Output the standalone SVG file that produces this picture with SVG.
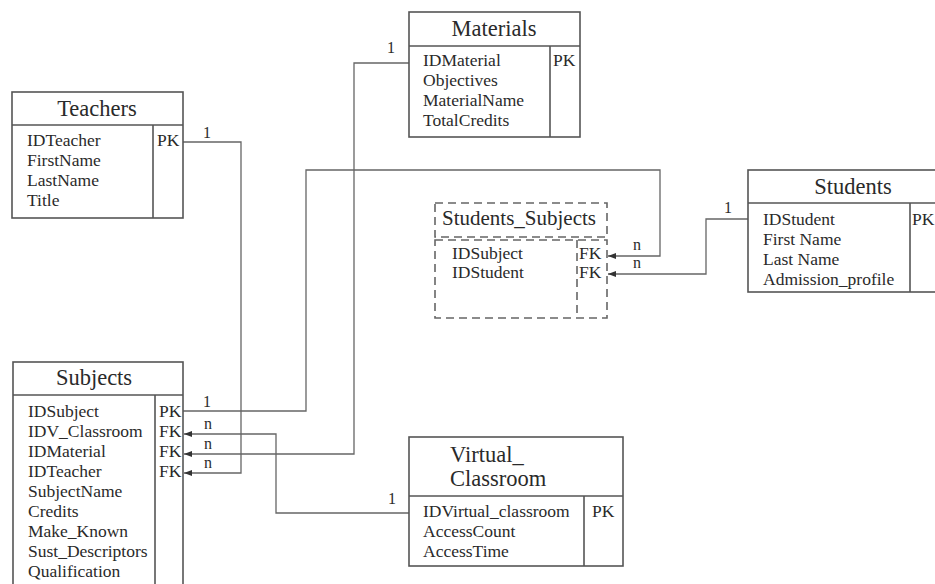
<svg xmlns="http://www.w3.org/2000/svg" width="935" height="584" viewBox="0 0 935 584" font-family="'Liberation Serif', 'DejaVu Serif', serif">
<defs>
<marker id="arr" viewBox="0 0 8 6" refX="8" refY="3" markerWidth="8" markerHeight="6" markerUnits="userSpaceOnUse" orient="auto">
<path d="M0,0 L8,3 L0,6 Z" fill="#333"/>
</marker>
<style>
.box{fill:#fff;stroke:#555;stroke-width:1.6}
.ln{fill:none;stroke:#555;stroke-width:1.6}
.dash{fill:none;stroke:#666;stroke-width:1.6;stroke-dasharray:8 5}
.conn{fill:none;stroke:#666;stroke-width:1.3}
text{fill:#2a2a2a}
.t{font-size:22.5px}
.r{font-size:17.5px}
.lbl{font-size:16px}
</style>
</defs>
<rect width="935" height="584" fill="#fff"/>

<g id="connectors">
<path class="conn" d="M183,142 H241 V473 H184" marker-end="url(#arr)"/>
<path class="conn" d="M409,63 H354 V454 H184" marker-end="url(#arr)"/>
<path class="conn" d="M183,411 H306 V170 H660 V256 H608" marker-end="url(#arr)"/>
<path class="conn" d="M748,219 H706 V274 H608" marker-end="url(#arr)"/>
<path class="conn" d="M409,513 H276 V434 H184" marker-end="url(#arr)"/>
<text class="lbl" x="203" y="138">1</text>
<text class="lbl" x="387" y="53">1</text>
<text class="lbl" x="203" y="407">1</text>
<text class="lbl" x="633" y="250">n</text>
<text class="lbl" x="724" y="213">1</text>
<text class="lbl" x="633" y="268">n</text>
<text class="lbl" x="388" y="504">1</text>
<text class="lbl" x="204" y="429">n</text>
<text class="lbl" x="204" y="449">n</text>
<text class="lbl" x="204" y="468">n</text>
</g>

<g id="teachers">
<rect class="box" x="12" y="92" width="171" height="126"/>
<line class="ln" x1="12" y1="125" x2="183" y2="125"/>
<line class="ln" x1="153" y1="125" x2="153" y2="218"/>
<text class="t" x="97" y="116" text-anchor="middle">Teachers</text>
<text class="r" x="27" y="146">IDTeacher</text>
<text class="r" x="27" y="166">FirstName</text>
<text class="r" x="27" y="186">LastName</text>
<text class="r" x="27" y="206">Title</text>
<text class="r" x="157" y="146">PK</text>
</g>

<g id="materials">
<rect class="box" x="409" y="12" width="171" height="125"/>
<line class="ln" x1="409" y1="46" x2="580" y2="46"/>
<line class="ln" x1="550" y1="46" x2="550" y2="137"/>
<text class="t" x="494" y="36" text-anchor="middle">Materials</text>
<text class="r" x="423" y="66">IDMaterial</text>
<text class="r" x="423" y="86">Objectives</text>
<text class="r" x="423" y="106">MaterialName</text>
<text class="r" x="423" y="126">TotalCredits</text>
<text class="r" x="553" y="66">PK</text>
</g>

<g id="students">
<rect class="box" x="748" y="170" width="200" height="122"/>
<line class="ln" x1="748" y1="203" x2="948" y2="203"/>
<line class="ln" x1="910" y1="203" x2="910" y2="292"/>
<text class="t" x="853" y="194" text-anchor="middle">Students</text>
<text class="r" x="763" y="225">IDStudent</text>
<text class="r" x="763" y="245">First Name</text>
<text class="r" x="763" y="265">Last Name</text>
<text class="r" x="763" y="285">Admission_profile</text>
<text class="r" x="912" y="225">PK</text>
</g>

<g id="students_subjects">
<rect class="dash" x="435" y="203" width="172" height="34"/>
<rect class="dash" x="435" y="240" width="172" height="78"/>
<line class="dash" x1="577" y1="240" x2="577" y2="318"/>
<text x="442" y="225" font-size="21">Students_Subjects</text>
<text class="r" x="452" y="259">IDSubject</text>
<text class="r" x="452" y="278">IDStudent</text>
<text class="r" x="579" y="259">FK</text>
<text class="r" x="579" y="278">FK</text>
</g>

<g id="subjects">
<rect class="box" x="13" y="362" width="170" height="240"/>
<line class="ln" x1="13" y1="395" x2="183" y2="395"/>
<line class="ln" x1="155" y1="395" x2="155" y2="602"/>
<text class="t" x="94" y="385" text-anchor="middle">Subjects</text>
<text class="r" x="28" y="417">IDSubject</text>
<text class="r" x="28" y="437">IDV_Classroom</text>
<text class="r" x="28" y="457">IDMaterial</text>
<text class="r" x="28" y="477">IDTeacher</text>
<text class="r" x="28" y="497">SubjectName</text>
<text class="r" x="28" y="517">Credits</text>
<text class="r" x="28" y="537">Make_Known</text>
<text class="r" x="28" y="557">Sust_Descriptors</text>
<text class="r" x="28" y="577">Qualification</text>
<text class="r" x="159" y="417">PK</text>
<text class="r" x="159" y="437">FK</text>
<text class="r" x="159" y="457">FK</text>
<text class="r" x="159" y="477">FK</text>
</g>

<g id="virtual_classroom">
<rect class="box" x="409" y="437" width="214" height="129"/>
<line class="ln" x1="409" y1="496" x2="623" y2="496"/>
<line class="ln" x1="584" y1="496" x2="584" y2="566"/>
<text class="t" x="450" y="462">Virtual_</text>
<text class="t" x="450" y="486">Classroom</text>
<text class="r" x="423" y="517">IDVirtual_classroom</text>
<text class="r" x="423" y="537">AccessCount</text>
<text class="r" x="423" y="557">AccessTime</text>
<text class="r" x="592" y="517">PK</text>
</g>
</svg>
